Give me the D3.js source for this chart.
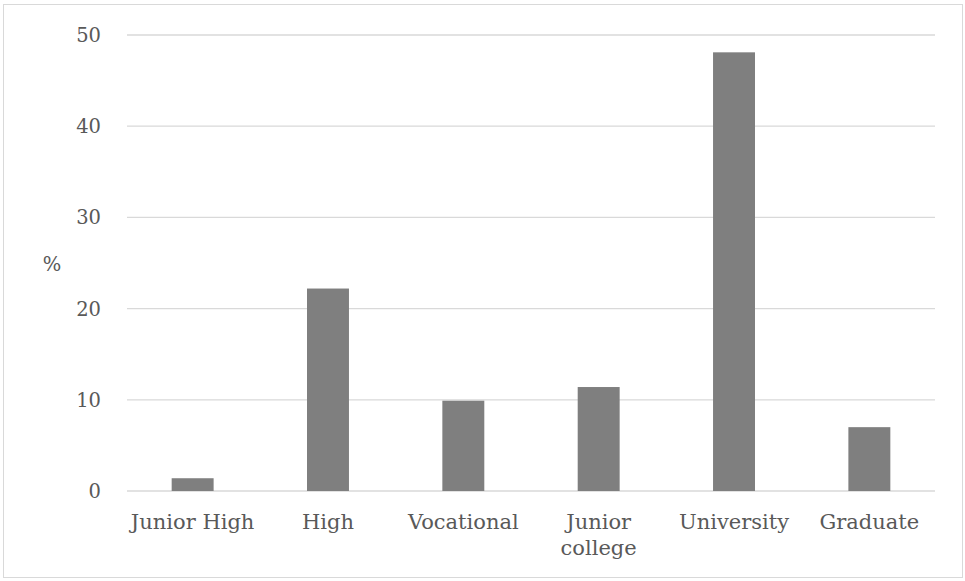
<!DOCTYPE html>
<html><head><meta charset="utf-8">
<script src="https://cdn.jsdelivr.net/npm/d3@7"></script>
<style>body{margin:0;background:#fff;} svg{display:block;}</style>
</head><body>
<script>
const categories = [["Junior High"],["High"],["Vocational"],["Junior","college"],["University"],["Graduate"]];
const values = [1.4, 22.2, 9.9, 11.4, 48.1, 7.0];
const yTicks = [0, 10, 20, 30, 40, 50];
const yLabel = "%";

const W = 965, H = 581;
const svg = d3.select("body").append("svg").attr("width", W).attr("height", H);
svg.append("rect").attr("x",3.5).attr("y",4.5).attr("width",959).attr("height",573)
  .attr("fill","#fff").attr("stroke","#d9d9d9");

const x = d3.scaleBand().domain(categories.map((d,i)=>i)).range([127,935]).paddingInner(0.69).paddingOuter(0.33);
const y = d3.scaleLinear().domain([0,50]).range([491,35]);
const font = "'DejaVu Serif', serif";

svg.append("g").selectAll("line").data(yTicks).join("line")
  .attr("x1",127).attr("x2",935).attr("y1",d=>y(d)).attr("y2",d=>y(d))
  .attr("stroke","#d9d9d9").attr("stroke-width",1.3);

svg.append("g").selectAll("text").data(yTicks).join("text")
  .attr("x",101).attr("y",d=>y(d)).attr("dy","0.36em").attr("text-anchor","end")
  .attr("font-family",font).attr("font-size",19.5).attr("fill","#595959").text(d=>d);

svg.append("g").selectAll("rect").data(values).join("rect")
  .attr("x",(d,i)=>x(i)).attr("width",x.bandwidth())
  .attr("y",d=>y(d)).attr("height",d=>y(0)-y(d)).attr("fill","#7f7f7f");

const xl = svg.append("g").selectAll("text").data(categories).join("text")
  .attr("x",(d,i)=>x(i)+x.bandwidth()/2).attr("y",529).attr("text-anchor","middle")
  .attr("font-family",font).attr("font-size",21).attr("fill","#595959");
xl.selectAll("tspan").data(d=>d).join("tspan")
  .attr("x",function(){return this.parentNode.getAttribute("x");})
  .attr("dy",(d,i)=>i===0?0:26).text(d=>d);

svg.append("text").attr("x",52).attr("y",264).attr("dy","0.36em").attr("text-anchor","middle")
  .attr("font-family",font).attr("font-size",19.5).attr("fill","#595959").text(yLabel);
</script>
</body></html>
